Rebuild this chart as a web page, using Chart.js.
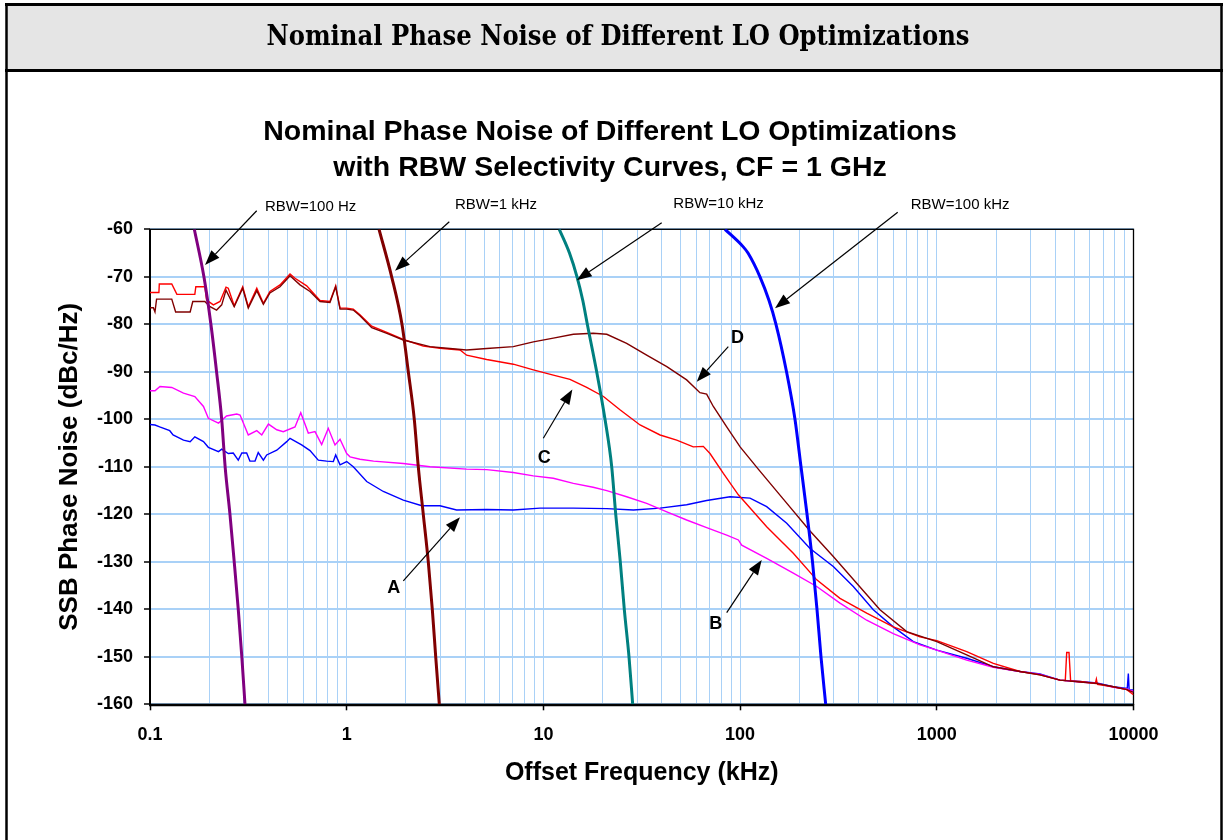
<!DOCTYPE html>
<html><head><meta charset="utf-8">
<script src="https://cdn.jsdelivr.net/npm/chart.js@4.4.1/dist/chart.umd.min.js"></script>
<style>html,body{margin:0;padding:0;background:#fff;overflow:hidden}#c{position:absolute;left:0;top:0}</style>
</head><body><canvas id="c" width="1227" height="840"></canvas>
<script>
// ---------- text ----------
const headerText = 'Nominal Phase Noise of Different LO Optimizations';
const titleLines = ['Nominal Phase Noise of Different LO Optimizations', 'with RBW Selectivity Curves, CF = 1 GHz'];
const xTitle = 'Offset Frequency (kHz)';
const yTitle = 'SSB Phase Noise (dBc/Hz)';
const xTickLabels = ['0.1', '1', '10', '100', '1000', '10000'];
const yTickLabels = ['-160', '-150', '-140', '-130', '-120', '-110', '-100', '-90', '-80', '-70', '-60'];
const yTickValues = [-160, -150, -140, -130, -120, -110, -100, -90, -80, -70, -60];
const decades = [0.1, 1, 10, 100, 1000];
const mantissas = [1, 2, 3, 4, 5, 6, 7, 8, 9];

// ---------- RBW selectivity curves ----------
const rbw100Hz_f  = [0.168, 0.188, 0.204, 0.218, 0.2315, 0.241, 0.255, 0.268, 0.281, 0.293, 0.304];
const rbw100Hz_db = [-60, -70, -80, -90, -100, -110, -120, -130, -140, -150, -160];
const rbw1kHz_f   = [1.46, 1.693, 1.91, 2.057, 2.206, 2.312, 2.451, 2.599, 2.724, 2.835, 2.957];
const rbw1kHz_db  = [-60, -70, -80, -90, -100, -110, -120, -130, -140, -150, -160];
const rbw10kHz_f  = [12.04, 13.57, 14.82, 15.86, 16.72, 18.66, 20.57, 22.25, 23.32, 24.6, 25.78, 27.24, 28.44];
const rbw10kHz_db = [-60, -65, -70, -75, -80, -90, -100, -110, -120, -130, -140, -150, -160];
const rbw100kHz_f  = [83.8, 103.8, 109.7, 126.2, 140.3, 152.2, 172.2, 190.1, 204.0, 218.9, 233.4, 246.0, 257.8, 272.4];
const rbw100kHz_db = [-60, -63.7, -65, -70, -75, -80, -90, -100, -110, -120, -130, -140, -150, -160];

// ---------- LO optimization phase noise curves ----------
const curveA_f = [0.1, 0.106, 0.112, 0.126, 0.131, 0.148, 0.16, 0.169, 0.187, 0.198, 0.223, 0.2315, 0.25, 0.265, 0.281, 0.293, 0.31, 0.322, 0.342, 0.355, 0.377, 0.392, 0.441, 0.4955, 0.515, 0.59, 0.651, 0.717, 0.791, 0.855, 0.879, 0.925, 1.0, 1.08, 1.264, 1.535, 1.94, 2.41, 2.98, 3.62, 5.15, 7.03, 9.61, 14.2, 21.0, 28.7, 39.2, 53.5, 67.6, 88.9, 112.3, 136.5, 172.6, 226.7, 297.7, 376.3, 475.5, 600.8, 759.7, 1000, 1419, 1938, 2649, 3347, 4229, 5346, 6500, 7896, 9053, 9300, 9413, 9500, 10000];
const curveA_db = [-101.1, -101.2, -101.6, -102.4, -103.3, -104.4, -104.7, -103.7, -104.7, -105.9, -106.8, -106.3, -107.2, -107.1, -108.6, -107.1, -107.1, -108.8, -108.8, -107.0, -108.6, -107.5, -106.5, -104.7, -104.0, -105.4, -106.6, -108.6, -108.8, -108.9, -107.5, -109.6, -108.9, -110.0, -113.1, -115.2, -117.0, -118.2, -118.2, -119.1, -119.0, -119.1, -118.7, -118.7, -118.8, -119.1, -118.7, -118.0, -117.1, -116.3, -116.6, -118.4, -121.9, -127.2, -131.0, -135.2, -140.1, -143.7, -146.8, -148.6, -150.3, -152.1, -153.1, -153.6, -154.9, -155.2, -155.5, -156.3, -156.6, -156.6, -153.5, -156.9, -157.0];

const curveB_f = [0.1, 0.106, 0.1124, 0.129, 0.148, 0.169, 0.187, 0.198, 0.223, 0.245, 0.276, 0.287, 0.316, 0.349, 0.37, 0.4, 0.441, 0.476, 0.546, 0.584, 0.638, 0.69, 0.746, 0.806, 0.872, 0.925, 1.0, 1.04, 1.168, 1.37, 1.94, 2.65, 4.07, 5.15, 7.03, 8.89, 11.23, 14.2, 17.9, 21.0, 26.5, 33.5, 42.4, 53.5, 67.6, 85.5, 98, 101.9, 136.5, 186.4, 245.2, 322, 440, 600.8, 821.5, 1000, 1419, 1938, 2649, 3347, 4229, 5346, 6500, 7896, 9250, 10000];
const curveB_db = [-94.0, -94.0, -93.1, -93.3, -94.5, -95.2, -97.3, -99.8, -100.8, -99.3, -98.9, -99.1, -103.3, -102.4, -103.3, -101.0, -102.2, -102.6, -101.6, -98.6, -102.9, -102.6, -105.3, -101.9, -105.4, -104.2, -107.2, -107.9, -108.4, -108.8, -109.3, -110.0, -110.5, -110.6, -111.2, -111.9, -112.4, -113.5, -114.3, -115.0, -116.3, -117.7, -119.5, -121.2, -122.8, -124.4, -125.4, -126.5, -129.3, -132.4, -135.2, -138.7, -142.3, -145.1, -147.5, -148.6, -150.7, -152.2, -153.1, -153.7, -154.9, -155.3, -155.6, -156.4, -156.8, -157.3];

const curveC_f = [0.1, 0.111, 0.1115, 0.129, 0.137, 0.169, 0.171, 0.19, 0.194, 0.21, 0.227, 0.2435, 0.25, 0.268, 0.296, 0.316, 0.349, 0.377, 0.407, 0.458, 0.515, 0.546, 0.626, 0.732, 0.822, 0.879, 0.925, 1.0, 1.08, 1.168, 1.34, 1.6, 1.94, 2.45, 2.98, 3.77, 4.07, 5.15, 7.03, 8.89, 11.23, 13.65, 16.6, 20.2, 24.5, 31.0, 39.2, 47.6, 57.8, 65.0, 70.3, 82.2, 98.0, 136.5, 186.4, 245.2, 322, 440, 600.8, 821.5, 1000, 1419, 1938, 2649, 3347, 4229, 4500, 4575, 4700, 4790, 5346, 6400, 6475, 6550, 7896, 9250, 10000];
const curveC_db = [-73.3, -73.3, -71.5, -71.5, -73.7, -73.7, -72.1, -72.1, -74.9, -75.9, -75.2, -72.2, -72.4, -76.1, -72.1, -76.3, -72.4, -75.6, -73.1, -71.7, -69.4, -70.3, -71.9, -75.0, -75.2, -71.9, -76.6, -76.6, -76.8, -78.0, -80.4, -81.7, -83.2, -84.6, -85.05, -85.4, -86.5, -87.4, -88.4, -89.6, -90.7, -91.6, -93.3, -95.2, -98.0, -101.2, -103.3, -104.4, -105.8, -105.7, -107.2, -111.4, -115.9, -122.6, -128.2, -133.8, -137.7, -140.8, -143.7, -145.8, -146.6, -148.9, -151.4, -153.1, -153.8, -154.9, -155.0, -149.1, -149.1, -155.1, -155.2, -155.6, -154.7, -155.8, -156.3, -156.9, -158.0];

const curveD_f = [0.1, 0.104, 0.106, 0.108, 0.129, 0.135, 0.16, 0.165, 0.19, 0.202, 0.218, 0.2315, 0.2435, 0.268, 0.296, 0.316, 0.349, 0.377, 0.407, 0.458, 0.515, 0.579, 0.651, 0.732, 0.822, 0.879, 0.925, 1.0, 1.08, 1.168, 1.34, 1.6, 1.94, 2.65, 3.35, 4.07, 5.15, 7.03, 8.89, 11.23, 14.2, 17.9, 21.0, 26.5, 33.5, 42.4, 53.5, 62.5, 67.6, 73.1, 85.5, 100, 123.7, 165.9, 226.7, 297.7, 391.5, 514.2, 703, 1000, 1419, 1938, 2649, 3347, 4229, 5346, 6500, 7896, 9250, 10000];
const curveD_db = [-76.5, -76.5, -77.4, -74.7, -74.7, -77.4, -77.4, -75.2, -75.2, -76.3, -77.0, -75.9, -72.8, -76.3, -72.4, -76.6, -72.9, -75.8, -73.4, -72.1, -69.8, -71.7, -73.1, -75.2, -75.4, -72.1, -76.8, -76.8, -77.0, -78.2, -80.7, -81.9, -83.3, -84.7, -85.1, -85.4, -85.1, -84.7, -83.7, -82.9, -82.1, -81.9, -82.1, -84.0, -86.5, -88.9, -91.7, -94.4, -94.7, -97.3, -101.6, -105.8, -110.5, -116.8, -123.5, -128.9, -134.5, -140.1, -144.7, -146.8, -149.6, -152.1, -153.1, -153.8, -154.9, -155.3, -155.6, -156.3, -156.9, -157.5];

// ---------- annotations (data coordinates) ----------
const rbwLabels = ['RBW=100 Hz', 'RBW=1 kHz', 'RBW=10 kHz', 'RBW=100 kHz'];
const rbwLabelAt = [[0.384, -55.3], [3.553, -54.9], [45.75, -54.7], [736.9, -54.9]];
const rbwArrowFrom = [[0.3487, -56.1], [3.323, -58.4], [39.95, -58.6], [632.8, -56.4]];
const rbwArrowTo = [[0.1904, -67.5], [1.761, -68.7], [14.77, -70.7], [150.5, -76.6]];
const letters = ['A', 'B', 'C', 'D'];
const letterAt = [[1.734, -135.6], [75.25, -143.1], [10.09, -108.2], [97.0, -82.9]];
const letterArrowFrom = [[1.94, -134.0], [85.5, -140.7], [9.99, -104.0], [87.1, -84.7]];
const letterArrowTo = [[3.767, -120.6], [128.8, -129.6], [14.03, -93.7], [60.2, -92.1]];

// ---------- build ----------
const pts = (f, d) => f.map((v, i) => ({x: v, y: d[i]}));
const xTickValues = [];
decades.forEach(d => mantissas.forEach(m => xTickValues.push(Number((d * m).toPrecision(4)))));
xTickValues.push(10000);
const isDecade = v => Math.abs(Math.log10(v) - Math.round(Math.log10(v))) < 1e-6;

const SANS = '"Liberation Sans", Arial, sans-serif';
const gridBlue = '#a9d1f7';

function filterSet(label, f, d, color) {
  return {label, data: pts(f, d), borderColor: color, borderWidth: 3, showLine: true, pointRadius: 0, cubicInterpolationMode: 'monotone', fill: false};
}
function curveSet(label, f, d, color) {
  return {label, data: pts(f, d), borderColor: color, borderWidth: 1.4, showLine: true, pointRadius: 0, tension: 0, fill: false};
}

const framePlugin = {
  id: 'frame',
  beforeDraw(chart) {
    const c = chart.ctx;
    c.save();
    c.fillStyle = '#fff'; c.fillRect(0, 0, chart.width, chart.height);
    c.fillStyle = '#e5e5e5'; c.fillRect(6, 4, 1215, 66);
    c.strokeStyle = '#000';
    c.lineWidth = 3;
    c.beginPath(); c.moveTo(5, 4.5); c.lineTo(1223, 4.5); c.stroke();
    c.beginPath(); c.moveTo(5, 70.5); c.lineTo(1223, 70.5); c.stroke();
    c.lineWidth = 2.5;
    c.beginPath(); c.moveTo(6.5, 3); c.lineTo(6.5, 840); c.stroke();
    c.beginPath(); c.moveTo(1221.5, 3); c.lineTo(1221.5, 840); c.stroke();
    c.fillStyle = '#000';
    c.font = 'bold 27px "DejaVu Serif Condensed", "Liberation Serif", serif';
    c.textAlign = 'center'; c.textBaseline = 'middle';
    c.fillText(headerText, 618, 38);
    c.restore();
  },
  beforeDatasetsDraw(chart) {
    const a = chart.chartArea, c = chart.ctx;
    c.save();
    c.strokeStyle = '#000';
    c.lineWidth = 1.3;
    c.strokeRect(a.left, a.top, a.right - a.left, a.bottom - a.top);
    c.lineWidth = 2;
    c.beginPath(); c.moveTo(a.left, a.top); c.lineTo(a.left, a.bottom + 1); c.lineTo(a.right, a.bottom + 1); c.stroke();
    c.restore();
  }
};

function arrow(c, x0, y0, x1, y1) {
  const ang = Math.atan2(y1 - y0, x1 - x0), L = 15, W = 5.5;
  const bx = x1 - L * Math.cos(ang), by = y1 - L * Math.sin(ang);
  c.beginPath(); c.moveTo(x0, y0); c.lineTo(bx, by); c.stroke();
  c.beginPath(); c.moveTo(x1, y1);
  c.lineTo(bx + W * Math.sin(ang), by - W * Math.cos(ang));
  c.lineTo(bx - W * Math.sin(ang), by + W * Math.cos(ang));
  c.closePath(); c.fill();
}

const annotPlugin = {
  id: 'annot',
  afterDatasetsDraw(chart) {
    const c = chart.ctx, sx = chart.scales.x, sy = chart.scales.y;
    const P = p => [sx.getPixelForValue(p[0]), sy.getPixelForValue(p[1])];
    c.save();
    c.fillStyle = '#000'; c.strokeStyle = '#000'; c.lineWidth = 1.2;
    c.font = '15px ' + SANS; c.textAlign = 'left'; c.textBaseline = 'middle';
    rbwLabels.forEach((t, i) => {
      const [lx, ly] = P(rbwLabelAt[i]);
      c.fillText(t, lx, ly);
      const [ax, ay] = P(rbwArrowFrom[i]); const [bx, by] = P(rbwArrowTo[i]);
      arrow(c, ax, ay, bx, by);
    });
    c.font = 'bold 18px ' + SANS; c.textAlign = 'center';
    letters.forEach((t, i) => {
      const [lx, ly] = P(letterAt[i]);
      c.fillText(t, lx, ly);
      const [ax, ay] = P(letterArrowFrom[i]); const [bx, by] = P(letterArrowTo[i]);
      arrow(c, ax, ay, bx, by);
    });
    c.restore();
  }
};

new Chart(document.getElementById('c'), {
  type: 'scatter',
  data: {
    datasets: [
      filterSet('RBW=100 Hz', rbw100Hz_f, rbw100Hz_db, '#800080'),
      filterSet('RBW=1 kHz', rbw1kHz_f, rbw1kHz_db, '#800000'),
      filterSet('RBW=10 kHz', rbw10kHz_f, rbw10kHz_db, '#008080'),
      filterSet('RBW=100 kHz', rbw100kHz_f, rbw100kHz_db, '#0000ff'),
      curveSet('D', curveD_f, curveD_db, '#800000'),
      curveSet('C', curveC_f, curveC_db, '#ff0000'),
      curveSet('B', curveB_f, curveB_db, '#ff00ff'),
      curveSet('A', curveA_f, curveA_db, '#0000ff')
    ]
  },
  options: {
    responsive: false, animation: false, devicePixelRatio: 1,
    layout: {padding: {top: 90, left: 0, right: 7, bottom: 0}},
    plugins: {
      legend: {display: false}, tooltip: {enabled: false},
      title: {display: true, text: titleLines, color: '#000', font: {family: SANS, size: 28.5, weight: 'bold', lineHeight: 36 / 28.5}, padding: {top: 24, bottom: 43.3}}
    },
    scales: {
      x: {
        type: 'logarithmic', position: 'bottom', min: 0.1, max: 10000,
        afterFit(s) { s.height = 135.7; },
        afterBuildTicks(s) { s.ticks = xTickValues.map(v => ({value: v, major: isDecade(v)})); },
        ticks: {autoSkip: false, maxRotation: 0, minRotation: 0, padding: 14, color: '#000', font: {family: SANS, size: 18, weight: 'bold'},
          callback(v) { return isDecade(v) ? xTickLabels[Math.round(Math.log10(v)) + 1] : ''; }},
        grid: {color: gridBlue, lineWidth: 1, tickLength: 6, tickWidth: 1.5, tickColor: ctx => (ctx.tick && isDecade(ctx.tick.value)) ? '#000' : 'rgba(0,0,0,0)'},
        border: {display: false},
        title: {display: true, text: xTitle, color: '#000', font: {family: SANS, size: 25, weight: 'bold', lineHeight: 1.2}, padding: {top: 0, bottom: 52}}
      },
      y: {
        type: 'linear', position: 'left', min: -160, max: -60,
        afterFit(s) { s.width = 150; },
        afterBuildTicks(s) { s.ticks = yTickValues.map(v => ({value: v})); },
        ticks: {padding: 11, color: '#000', font: {family: SANS, size: 18, weight: 'bold'},
          callback(v) { return yTickLabels[yTickValues.indexOf(v)]; }},
        grid: {color: gridBlue, lineWidth: 2, tickLength: 6, tickWidth: 1.5, tickColor: '#000'},
        border: {display: false},
        title: {display: true, text: yTitle, color: '#000', font: {family: SANS, size: 26, weight: 'bold', lineHeight: 1.2}, padding: {top: 54.4, bottom: 0}}
      },
      yR: {
        type: 'linear', position: 'right', min: -160, max: -60,
        afterFit(s) { s.width = 86.5; },
        ticks: {display: false}, grid: {display: false, drawTicks: false}, border: {display: false}
      }
    }
  },
  plugins: [framePlugin, annotPlugin]
});
</script></body></html>
